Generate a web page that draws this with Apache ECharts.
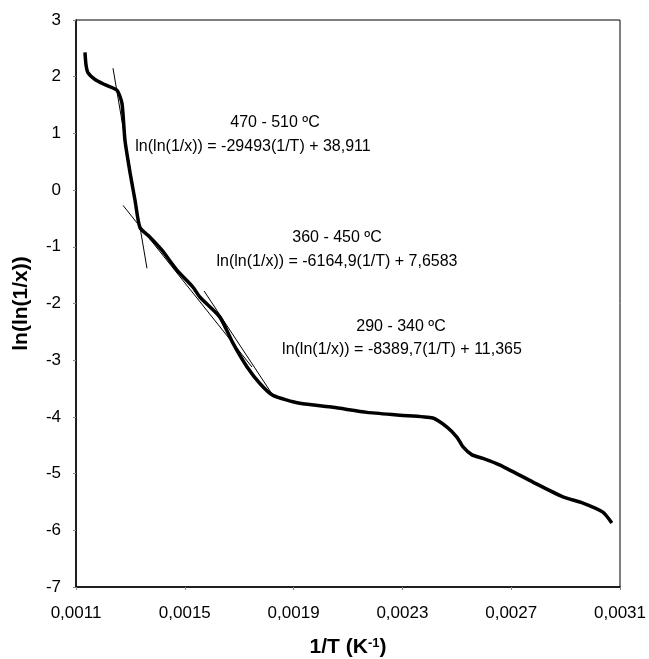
<!DOCTYPE html>
<html lang="en">
<head>
    <meta charset="UTF-8">
    <title>ln(ln(1/x)) vs 1/T</title>
    <style>
        *{margin: 0; padding: 0;}
        body,html{width: 100%; height: 100%; background: #fff;}
        #chart{width: 649px; height: 659px;}
    </style>
</head>
<body>
<div id="chart"></div>
<script src="https://cdn.jsdelivr.net/npm/echarts@6/dist/echarts.min.js"></script>
<script>
// curve: 1/T (K^-1) and ln(ln(1/x))
var invT = [0.001133, 0.001137, 0.001144, 0.001170, 0.001206, 0.001251, 0.001269, 0.001280,
    0.001299, 0.001317, 0.001335, 0.001372, 0.001416, 0.001471, 0.001530, 0.001556,
    0.001629, 0.001677, 0.001729, 0.001776, 0.001824, 0.001923, 0.002045, 0.002170,
    0.002291, 0.002412, 0.002464, 0.002501, 0.002523, 0.002556, 0.002596, 0.002659,
    0.002780, 0.002890, 0.002964, 0.003037, 0.003070];
var lnln = [2.43, 2.20, 2.07, 1.95, 1.86, 1.76, 1.53, 0.88,
    0.30, -0.18, -0.66, -0.83, -1.06, -1.41, -1.71, -1.89,
    -2.24, -2.70, -3.12, -3.41, -3.62, -3.76, -3.83, -3.92,
    -3.97, -4.02, -4.18, -4.36, -4.53, -4.67, -4.73, -4.85,
    -5.15, -5.41, -5.52, -5.68, -5.87];

// fitted straight lines, two end points each
var fit470 = [[0.001236, 2.15], [0.001361, -1.38]];
var fit360 = [[0.001273, -0.27], [0.001747, -3.12]];
var fit290 = [[0.001571, -1.78], [0.001824, -3.62]];

var rangeLabels = ['470 - 510 ºC', '360 - 450 ºC', '290 - 340 ºC'];
var equations = [
    'ln(ln(1/x)) = -29493(1/T) + 38,911',
    'ln(ln(1/x)) = -6164,9(1/T) + 7,6583',
    'ln(ln(1/x)) = -8389,7(1/T) + 11,365'
];

var font = '"Liberation Sans", Arial, sans-serif';

var curve = [];
for (var i = 0; i < invT.length; i++) {
    curve.push([invT[i], lnln[i]]);
}

function fitLine(d) {
    return {
        type: 'line',
        data: d,
        symbol: 'none',
        silent: true,
        lineStyle: {color: '#000', width: 1},
        z: 3
    };
}

// text boxes: [label, x, y]
var notes = [
    [rangeLabels[0], 275, 123], [equations[0], 253, 147],
    [rangeLabels[1], 337, 238], [equations[1], 337, 262],
    [rangeLabels[2], 401, 327], [equations[2], 402, 350]
];
var graphics = notes.map(function (n) {
    return {
        type: 'text',
        x: n[1],
        y: n[2],
        style: {
            text: n[0],
            fill: '#000',
            font: '16px ' + font,
            textAlign: 'center',
            textVerticalAlign: 'middle'
        }
    };
});

var option = {
    animation: false,
    backgroundColor: '#fff',
    grid: {
        left: 76,
        right: 29,
        top: 20,
        bottom: 72,
        outerBoundsMode: 'none',
        containLabel: false,
        show: true,
        borderColor: '#000',
        borderWidth: 1
    },
    xAxis: {
        type: 'value',
        min: 0.0011,
        max: 0.0031,
        interval: 0.0004,
        name: '1/T (K{sup|-1})',
        nameLocation: 'middle',
        nameGap: 50,
        nameTextStyle: {
            color: '#000',
            fontFamily: font,
            fontSize: 21,
            fontWeight: 'bold',
            rich: {
                sup: {fontSize: 13, fontWeight: 'bold', fontFamily: font, color: '#000', verticalAlign: 'top', padding: [0, 0, 6, 0]}
            }
        },
        axisLine: {onZero: false, lineStyle: {color: '#000', width: 1.5}},
        axisTick: {show: true, length: 3, lineStyle: {color: '#888'}},
        splitLine: {show: false},
        axisLabel: {
            color: '#000',
            fontFamily: font,
            fontSize: 17,
            margin: 18,
            formatter: function (v) { return v.toFixed(4).replace('.', ','); }
        }
    },
    yAxis: {
        type: 'value',
        min: -7,
        max: 3,
        interval: 1,
        name: 'ln(ln(1/x))',
        nameLocation: 'middle',
        nameGap: 44,
        nameTextStyle: {color: '#000', fontFamily: font, fontSize: 21, fontWeight: 'bold'},
        axisLine: {show: true, onZero: false, lineStyle: {color: '#000', width: 1.5}},
        axisTick: {show: true, length: 3, lineStyle: {color: '#888'}},
        splitLine: {show: false},
        axisLabel: {color: '#000', fontFamily: font, fontSize: 17, margin: 15}
    },
    series: [
        {
            type: 'line',
            data: curve,
            symbol: 'none',
            smooth: 0.2,
            lineStyle: {color: '#000', width: 3.5},
            z: 4
        },
        fitLine(fit470),
        fitLine(fit360),
        fitLine(fit290)
    ],
    graphic: graphics
};

var myChart = echarts.init(document.getElementById('chart'));
myChart.setOption(option);
</script>
</body>
</html>
